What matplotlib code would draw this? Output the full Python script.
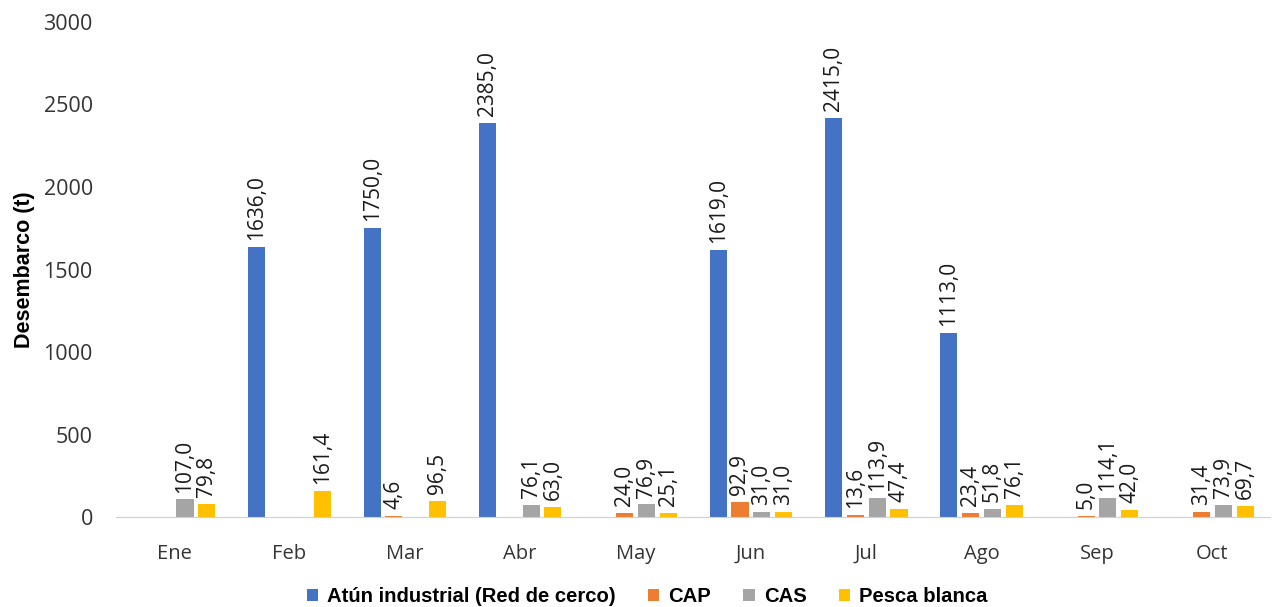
import matplotlib.pyplot as plt
import numpy as np

# Datos
meses = ["Ene", "Feb", "Mar", "Abr", "May", "Jun", "Jul", "Ago", "Sep", "Oct"]
atun = [np.nan, 1636.0, 1750.0, 2385.0, np.nan, 1619.0, 2415.0, 1113.0, np.nan, np.nan]
cap = [np.nan, np.nan, 4.6, np.nan, 24.0, 92.9, 13.6, 23.4, 5.0, 31.4]
cas = [107.0, np.nan, np.nan, 76.1, 76.9, 31.0, 113.9, 51.8, 114.1, 73.9]
pesca = [79.8, 161.4, 96.5, 63.0, 25.1, 31.0, 47.4, 76.1, 42.0, 69.7]

series = [atun, cap, cas, pesca]
nombres = ["Atún industrial (Red de cerco)", "CAP", "CAS", "Pesca blanca"]
colores = ["#4472C4", "#ED7D31", "#A5A5A5", "#FFC000"]

plt.rcParams['font.family'] = ['Open Sans', 'DejaVu Sans']

fig = plt.figure(figsize=(12.79, 6.07), dpi=100)
ax = fig.add_axes([0.091, 0.148, 0.902, 0.816])

x = np.arange(len(meses))
paso = 0.189
ancho = 0.148
for i, (vals, nom, col) in enumerate(zip(series, nombres, colores)):
    pos = x + (i - 1.5) * paso
    v = np.array(vals, dtype=float)
    ax.bar(pos, np.nan_to_num(v), width=ancho, color=col, label=nom)
    for p, val in zip(pos, v):
        if np.isnan(val):
            continue
        ax.annotate(("%.1f" % val).replace(".", ","), (p, val),
                    xytext=(0, 5), textcoords="offset points", rotation=90,
                    ha="center", va="bottom", fontsize=15, color="#1a1a1a")

ax.set_ylim(0, 3000)
ax.set_xlim(-0.5, len(meses) - 0.5)
ax.set_yticks(np.arange(0, 3001, 500))
ax.set_xticks(x)
ax.set_xticklabels(meses, fontsize=14.5)
ax.tick_params(axis="both", length=0, colors="#333333")
ax.tick_params(axis="y", labelsize=15.5, pad=17)
ax.tick_params(axis="x", pad=19)
for s in ["top", "right", "left"]:
    ax.spines[s].set_visible(False)
ax.spines["bottom"].set_color("#D0D0D0")
ax.set_ylabel("Desembarco (t)", fontsize=15.5, fontweight="bold", labelpad=6,
              family="Liberation Sans")

leg = ax.legend(loc="center", bbox_to_anchor=(0.46, -0.161), ncol=4,
                frameon=False,
                prop={"weight": "bold", "size": 14.6, "family": "Liberation Sans"},
                handlelength=0.55, handleheight=0.55, columnspacing=1.6,
                handletextpad=0.45, borderpad=0.1)

fig.savefig("out.png", dpi=100)
